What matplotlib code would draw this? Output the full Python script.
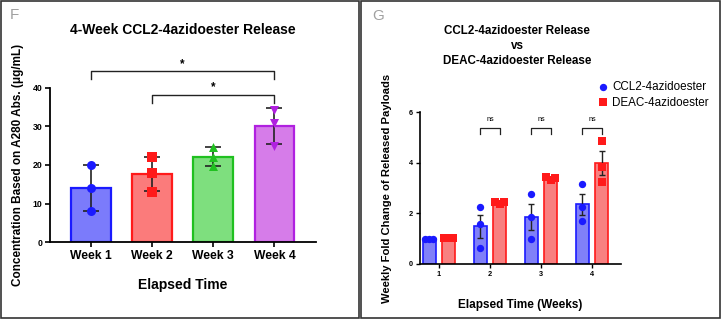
import numpy as np
import matplotlib
matplotlib.use('Agg')
import matplotlib.pyplot as plt
from matplotlib.patches import Rectangle

plt.rcParams['font.family'] = ['Liberation Sans', 'DejaVu Sans']

# ------------------ data panel F ------------------
semanas = ['Week 1', 'Week 2', 'Week 3', 'Week 4']
puntos_f = [[20.0, 14.0, 8.0],
            [22.0, 18.0, 13.0],
            [24.7, 22.0, 19.7],
            [34.4, 31.0, 25.0]]
relleno_f = ['#7b7bfb', '#fb7b7b', '#7edf7e', '#d67ce9']
borde_f = ['#1a1aff', '#ff1a1a', '#20c020', '#b020e0']
marcas_f = ['o', 's', '^', 'v']

# ------------------ data panel G ------------------
semanas_g = ['1', '2', '3', '4']
ccl2 = [[1.0, 1.0, 1.0],
        [2.24, 1.58, 0.65],
        [2.77, 1.85, 0.99],
        [3.15, 2.24, 1.71]]
deac = [[1.02, 1.02, 1.02],
        [2.47, 2.38, 2.44],
        [3.43, 3.33, 3.40],
        [4.87, 3.85, 3.23]]

W, H = 722, 320
fig = plt.figure(figsize=(7.22, 3.2), dpi=100)


def fx(px):
    return px / W


def fy(py):
    return 1 - py / H


# marcos de los paneles
fig.patches.append(Rectangle((fx(1), fy(318)), fx(358), 317 / H, transform=fig.transFigure,
                             fill=False, edgecolor='#333333', linewidth=1.2))
fig.patches.append(Rectangle((fx(360.5), fy(318)), fx(359.5), 317 / H, transform=fig.transFigure,
                             fill=False, edgecolor='#333333', linewidth=1.2))

# ------------------ panel F ------------------
ax1 = fig.add_axes([fx(50), fy(242), fx(316 - 50), (242 - 88) / H])
x = np.arange(len(semanas))
medias = [np.mean(p) for p in puntos_f]
sd = [np.std(p, ddof=1) for p in puntos_f]
ax1.bar(x, medias, width=0.65, color=relleno_f, edgecolor=borde_f, linewidth=1.6, zorder=2)
ax1.errorbar(x, medias, yerr=sd, fmt='none', ecolor='#222222', elinewidth=1.2,
             capsize=6, capthick=1.2, zorder=3)
for i, p in enumerate(puntos_f):
    ax1.scatter([x[i]] * len(p), p, marker=marcas_f[i], color=borde_f[i], s=42, zorder=4,
                linewidths=0)
ax1.set_xlim(-0.67, 3.68)
ax1.set_ylim(0, 40)
ax1.set_yticks([0, 10, 20, 30, 40])
ax1.set_xticks(x)
ax1.set_xticklabels(semanas, fontsize=8.7, fontweight='bold')
for lab in ax1.get_yticklabels():
    lab.set_fontsize(6.3)
    lab.set_fontweight('bold')
ax1.spines[['top', 'right']].set_visible(False)
ax1.spines[['left', 'bottom']].set_linewidth(1.3)
ax1.tick_params(length=3.5, width=1.2, pad=2)
ax1.set_xlabel('Elapsed Time', fontsize=10, fontweight='bold', labelpad=12)
ax1.set_ylabel('Concentration Based on A280 Abs. (μg/mL)', fontsize=8.5, fontweight='bold',
               labelpad=6)

# significancia
for (a, b, yb, ys) in [(0, 3, 44.4, 46.3), (1, 3, 38.2, 40.2)]:
    ax1.plot([a, a, b, b], [yb - 2.1, yb, yb, yb - 2.1], color='#222222', lw=1,
             clip_on=False)
    ax1.text((a + b) / 2, ys, '*', ha='center', va='center', fontsize=8.5, fontweight='bold')

fig.text(fx(10), fy(15), 'F', fontsize=11, color='#a0a0a0', ha='left', va='center')
fig.text(fx(183), fy(30), '4-Week CCL2-4azidoester Release', fontsize=10, fontweight='bold',
         ha='center', va='center')

# ------------------ panel G ------------------
ax2 = fig.add_axes([fx(420), fy(264), fx(621 - 420), (264 - 112.3) / H])
xg = np.arange(1, len(semanas_g) + 1)
off = 0.19
ancho = 0.25
for serie, desp, color, relleno, marca, nombre in [
        (ccl2, -off, '#1a1aff', '#8080f8', 'o', 'CCL2-4azidoester'),
        (deac, off, '#ff1a1a', '#f88080', 's', 'DEAC-4azidoester')]:
    m = [np.mean(p) for p in serie]
    sem = [np.std(p, ddof=1) / np.sqrt(len(p)) for p in serie]
    ax2.bar(xg + desp, m, width=ancho, color=relleno, edgecolor=color, linewidth=1.2, zorder=2)
    ax2.errorbar(xg + desp, m, yerr=sem, fmt='none', ecolor='#222222', elinewidth=1,
                 capsize=2.5, capthick=1, zorder=3)
    for i, p in enumerate(serie):
        if max(p) - min(p) < 0.15:
            xs = xg[i] + desp + np.array([-1, 0, 1]) * ancho / 3.0
        else:
            xs = [xg[i] + desp] * len(p)
        ax2.scatter(xs, p, marker=marca, color=color, s=28, zorder=4, linewidths=0,
                    label=nombre if i == 0 else None)

for g in xg[1:]:
    a, b = g - off, g + off
    ax2.plot([a, a, b, b], [5.14, 5.38, 5.38, 5.14], color='#222222', lw=0.9, clip_on=False)
    ax2.text(g, 5.72, 'ns', ha='center', va='center', fontsize=5.2)

ax2.set_xlim(0.63, 4.57)
ax2.set_ylim(0, 6)
ax2.set_yticks([0, 2, 4, 6])
ax2.set_xticks(xg)
ax2.set_xticklabels(semanas_g)
for lab in ax2.get_xticklabels() + ax2.get_yticklabels():
    lab.set_fontsize(5.3)
    lab.set_fontweight('bold')
ax2.spines[['top', 'right']].set_visible(False)
ax2.spines[['left', 'bottom']].set_linewidth(1.2)
ax2.tick_params(length=3, width=1, pad=2)
ax2.set_xlabel('Elapsed Time (Weeks)', fontsize=8.5, fontweight='bold', labelpad=15)
ax2.set_ylabel('Weekly Fold Change of Released Payloads', fontsize=8.1, fontweight='bold',
               labelpad=12)
ax2.legend(loc='upper left', bbox_to_anchor=(fx(597), fy(81)), bbox_transform=fig.transFigure,
           frameon=False, fontsize=8.4, handletextpad=0.3, borderaxespad=0, borderpad=0,
           labelspacing=0.3, handlelength=1, markerscale=1.0)

fig.text(fx(372), fy(16), 'G', fontsize=11, color='#a0a0a0', ha='left', va='center')
fig.text(fx(517), fy(46), 'CCL2-4azidoester Release\nvs\nDEAC-4azidoester Release',
         fontsize=8.4, fontweight='bold', ha='center', va='center', linespacing=1.35)

fig.savefig('out.png', dpi=100)
